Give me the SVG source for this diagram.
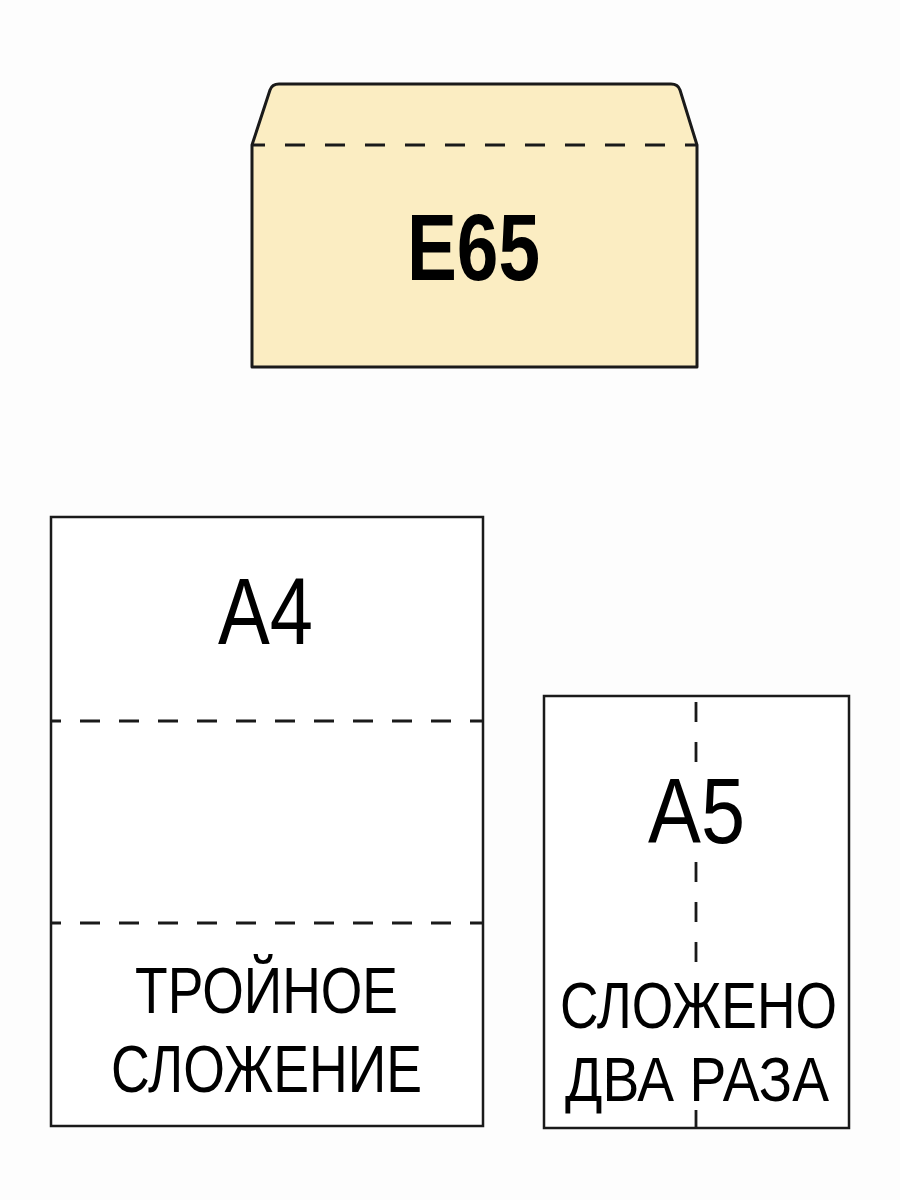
<svg xmlns="http://www.w3.org/2000/svg" width="900" height="1200" viewBox="0 0 900 1200">
  <style>
    .outline { fill: #ffffff; stroke: #1a1a1a; stroke-width: 2.5; }
    .env { fill: #fbedc2; stroke: #1a1a1a; stroke-width: 3; stroke-linejoin: round; }
    .fold { fill: none; stroke: #1a1a1a; stroke-width: 2.8; }
    .lbl { font-family: "Liberation Sans", Arial, sans-serif; fill: #000000; text-anchor: middle; }
    .bold { font-weight: bold; }
  </style>
  <rect x="0" y="0" width="900" height="1200" fill="#fdfdfd"/>

  <g id="envelope-e65">
    <path class="env" d="M252,367 L252,145 L270,90 Q272,84 279,84 L671,84 Q678,84 680,90 L697,145 L697,367 Z"/>
    <line class="fold" x1="252" y1="145" x2="697" y2="145" stroke-dasharray="20 20" stroke-dashoffset="7"/>
    <text class="lbl bold" x="473.5" y="280" font-size="95" textLength="133" lengthAdjust="spacingAndGlyphs">E65</text>
  </g>

  <g id="sheet-a4">
    <rect class="outline" x="51" y="517" width="432" height="609"/>
    <line class="fold" x1="51" y1="721" x2="483" y2="721" stroke-dasharray="20 19" stroke-dashoffset="10"/>
    <line class="fold" x1="51" y1="923" x2="483" y2="923" stroke-dasharray="20 19" stroke-dashoffset="10"/>
    <text class="lbl" x="265.5" y="644" font-size="94" textLength="95" lengthAdjust="spacingAndGlyphs">A4</text>
    <text class="lbl" x="266.5" y="1013" font-size="65" textLength="263" lengthAdjust="spacingAndGlyphs">ТРОЙНОЕ</text>
    <text class="lbl" x="266.5" y="1092" font-size="66" textLength="311" lengthAdjust="spacingAndGlyphs">СЛОЖЕНИЕ</text>
  </g>

  <g id="sheet-a5">
    <rect class="outline" x="544" y="696" width="305" height="432"/>
    <path class="fold" d="M696,702 V722 M696,742 V762 M696,862 V882 M696,902 V922 M696,942 V962 M696,1110 V1128"/>
    <text class="lbl" x="696.5" y="843" font-size="93" textLength="97" lengthAdjust="spacingAndGlyphs">A5</text>
    <text class="lbl" x="698.5" y="1028" font-size="65" textLength="277" lengthAdjust="spacingAndGlyphs">СЛОЖЕНО</text>
    <text class="lbl" x="697" y="1101" font-size="63" textLength="264" lengthAdjust="spacingAndGlyphs">ДВА РАЗА</text>
  </g>

  <g id="connectors"/>
</svg>
